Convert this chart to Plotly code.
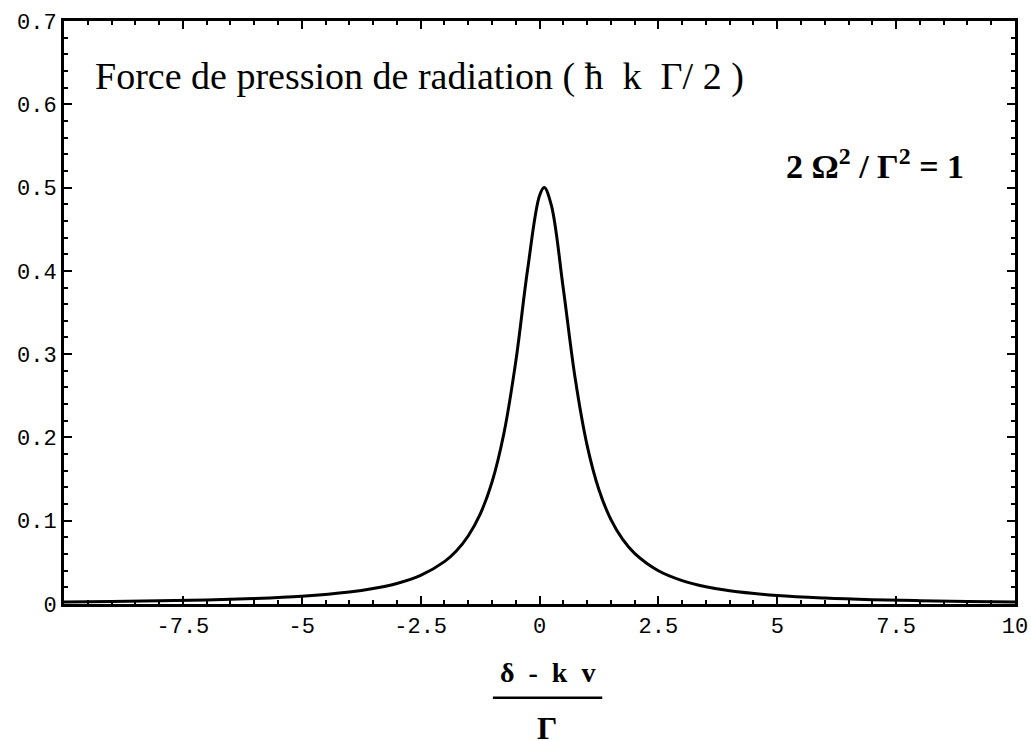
import plotly.graph_objects as go

# values
detuning = [-10, -9, -8, -7, -6, -5, -4, -3.5, -3, -2.5, -2, -1.75, -1.5, -1.25, -1,
            -0.75, -0.5, -0.25, 0, 0.1, 0.25, 0.5, 0.75, 1, 1.25, 1.5, 1.75, 2,
            2.5, 3, 3.5, 4, 5, 6, 7, 8, 9, 10]
force = [0.0024, 0.0030, 0.0038, 0.0049, 0.0066, 0.0094, 0.0144, 0.0186, 0.0247, 0.0344,
         0.0509, 0.0637, 0.0817, 0.1076, 0.1462, 0.2045, 0.2907, 0.4016, 0.4902, 0.5,
         0.4785, 0.3788, 0.2710, 0.1908, 0.1372, 0.1016, 0.0776, 0.0608, 0.0399, 0.0281,
         0.0207, 0.0159, 0.0102, 0.0071, 0.0052, 0.0040, 0.0031, 0.0025]

x_tickvals = [-7.5, -5, -2.5, 0, 2.5, 5, 7.5, 10]
x_ticktext = ["-7.5", "-5", "-2.5", "0", "2.5", "5", "7.5", "10"]
y_tickvals = [0, 0.1, 0.2, 0.3, 0.4, 0.5, 0.6, 0.7]
y_ticktext = ["0", "0.1", "0.2", "0.3", "0.4", "0.5", "0.6", "0.7"]

NB = "\u00a0"
title_text = f"Force de pression de radiation ({NB}ħ{NB}{NB}k{NB}{NB}Γ/{NB}2{NB})"
param_text = f"2{NB}Ω<sup>2</sup>{NB}/{NB}Γ<sup>2</sup>{NB}={NB}1"
xlabel_num = f"<b>δ{NB}{NB}-{NB}{NB}k{NB}{NB}v</b>"
xlabel_den = "<b>Γ</b>"

fig = go.Figure()
fig.add_trace(go.Scatter(x=detuning, y=force, mode="lines",
                         line=dict(color="black", width=3, shape="spline"),
                         showlegend=False, hoverinfo="skip"))

tickfont = dict(family="Liberation Mono, Courier New, monospace", size=22, color="black")
fig.update_layout(
    width=1031, height=741,
    margin=dict(l=64, r=16, t=21, b=137),
    paper_bgcolor="white", plot_bgcolor="white",
    xaxis=dict(range=[-10, 10], showgrid=False, zeroline=False, automargin=False,
               showline=True, linecolor="black", linewidth=3, mirror="ticks",
               ticks="inside", ticklen=8, tickwidth=2, tickcolor="black",
               tickvals=x_tickvals, ticktext=x_ticktext, tickfont=tickfont,
               minor=dict(ticks="inside", ticklen=4, tickwidth=2, tickcolor="black",
                          dtick=0.5, tick0=0, showgrid=False)),
    yaxis=dict(range=[0, 0.7], showgrid=False, zeroline=False, automargin=False,
               showline=True, linecolor="black", linewidth=3, mirror="ticks",
               ticks="inside", ticklen=8, tickwidth=2, tickcolor="black",
               tickvals=y_tickvals, ticktext=y_ticktext, tickfont=tickfont,
               minor=dict(ticks="inside", ticklen=4, tickwidth=2, tickcolor="black",
                          dtick=0.02, tick0=0, showgrid=False)),
)

serif = "Liberation Serif, Times New Roman, serif"
fig.add_annotation(xref="paper", yref="paper", x=0.03, y=0.904, xanchor="left", yanchor="middle",
                   text=title_text, showarrow=False, font=dict(family=serif, size=38, color="black"))
fig.add_annotation(xref="paper", yref="paper", x=0.948, y=0.755, xanchor="right", yanchor="middle",
                   text=param_text, showarrow=False, font=dict(family=serif, size=34, color="black",
                                                               weight="bold"))
fig.add_annotation(xref="paper", yref="paper", x=0.508, y=-0.117, xanchor="center", yanchor="middle",
                   text=xlabel_num, showarrow=False, font=dict(family=serif, size=28, color="black"))
fig.add_annotation(xref="paper", yref="paper", x=0.508, y=-0.178, xanchor="center", yanchor="top",
                   text=xlabel_den, showarrow=False, font=dict(family=serif, size=32, color="black"))
fig.add_shape(type="line", xref="paper", yref="paper", x0=0.451, x1=0.566, y0=-0.161, y1=-0.161,
              line=dict(color="black", width=2.5))

fig.write_html("out.html")
